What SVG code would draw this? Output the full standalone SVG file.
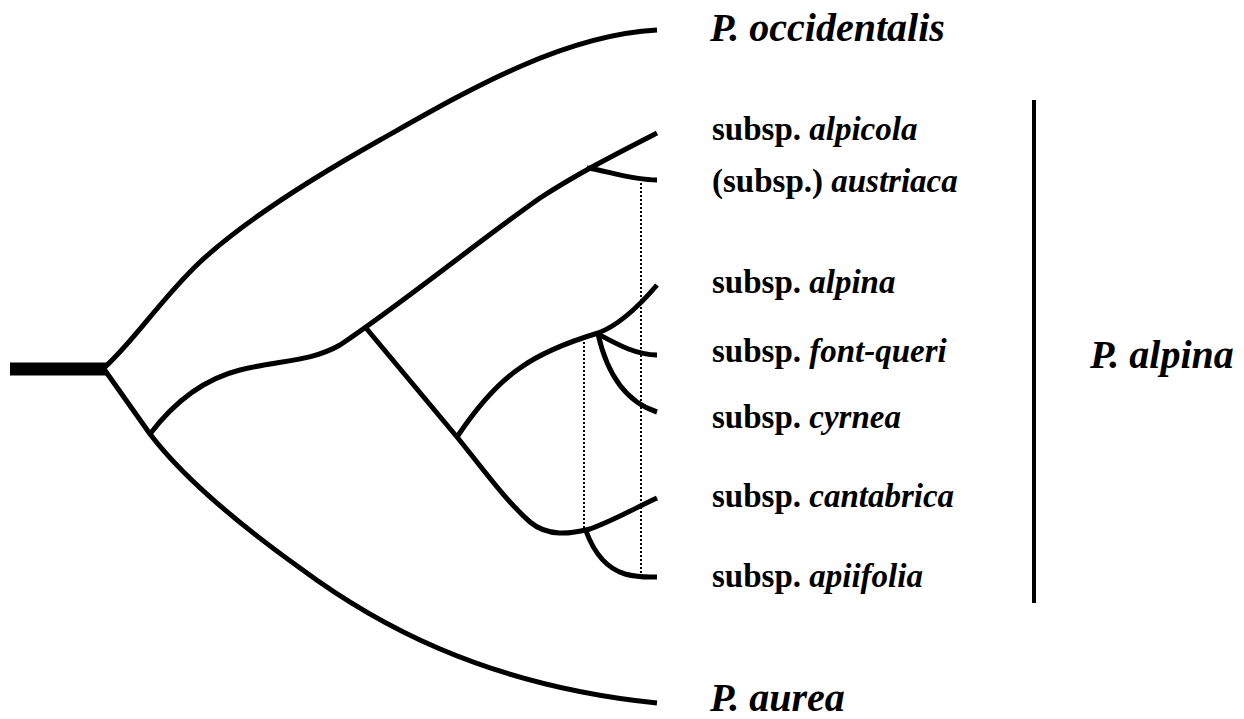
<svg xmlns="http://www.w3.org/2000/svg" width="1244" height="719" viewBox="0 0 1244 719">
<style>
.br{fill:none;stroke:#000;stroke-width:5;stroke-linecap:butt;stroke-linejoin:round}
.dot{fill:none;stroke:#000;stroke-width:2;stroke-dasharray:2 2}
.sub{font-family:"Liberation Serif","Times New Roman",serif;font-weight:bold;font-size:33px;fill:#000}
.sp{font-family:"Liberation Serif","Times New Roman",serif;font-weight:bold;font-style:italic;font-size:40px;fill:#000}
.it{font-style:italic}
</style>
<rect width="1244" height="719" fill="#fff"/>
<g id="connectors">
  <path class="br" d="M10,369 L107,369" style="stroke-width:13"/>
  <path class="br" d="M104,368 C135,340 160,300 200,262 C240,225 300,185 380,140 C460,95 560,35 657,30"/>
  <path class="br" d="M104,369 L150,434 C185,480 240,525 300,568 C370,620 480,685 657,703"/>
  <path class="br" d="M150,434 C172,405 200,380 240,370 C280,360 310,362 340,345 C400,305 480,240 540,198 C580,172 620,152 657,133"/>
  <path class="br" d="M587,168 C605,170 630,180 657,180"/>
  <path class="br" d="M366,328 L457,437 C480,465 505,500 530,522 C548,537 570,534 590,529 C615,520 635,508 657,498"/>
  <path class="br" d="M586,531 C593,550 605,568 625,574 C640,578 650,577 657,577"/>
  <path class="br" d="M457,437 C475,410 495,385 520,368 C545,350 575,340 598,333 C620,325 640,305 657,285"/>
  <path class="br" d="M598,334 C615,343 635,355 657,355"/>
  <path class="br" d="M598,334 C605,365 620,400 657,412"/>
  <path class="dot" d="M641,183 L641,575"/>
  <path class="dot" d="M584,338 L584,529"/>
  <path class="br" d="M1034,100 L1034,603" style="stroke-width:4"/>
</g>
<g id="node-occidentalis"><text class="sp" x="710" y="41">P. occidentalis</text></g>
<g id="node-alpicola"><text class="sub" x="712" y="140">subsp. <tspan class="it">alpicola</tspan></text></g>
<g id="node-austriaca"><text class="sub" x="712" y="192">(subsp.) <tspan class="it">austriaca</tspan></text></g>
<g id="node-alpina-subsp"><text class="sub" x="712" y="293">subsp. <tspan class="it">alpina</tspan></text></g>
<g id="node-font-queri"><text class="sub" x="712" y="362">subsp. <tspan class="it">font-queri</tspan></text></g>
<g id="node-cyrnea"><text class="sub" x="712" y="428">subsp. <tspan class="it">cyrnea</tspan></text></g>
<g id="node-cantabrica"><text class="sub" x="712" y="507">subsp. <tspan class="it">cantabrica</tspan></text></g>
<g id="node-apiifolia"><text class="sub" x="712" y="587">subsp. <tspan class="it">apiifolia</tspan></text></g>
<g id="node-aurea"><text class="sp" x="710" y="711">P. aurea</text></g>
<g id="node-alpina"><text class="sp" x="1090" y="368">P. alpina</text></g>
</svg>
